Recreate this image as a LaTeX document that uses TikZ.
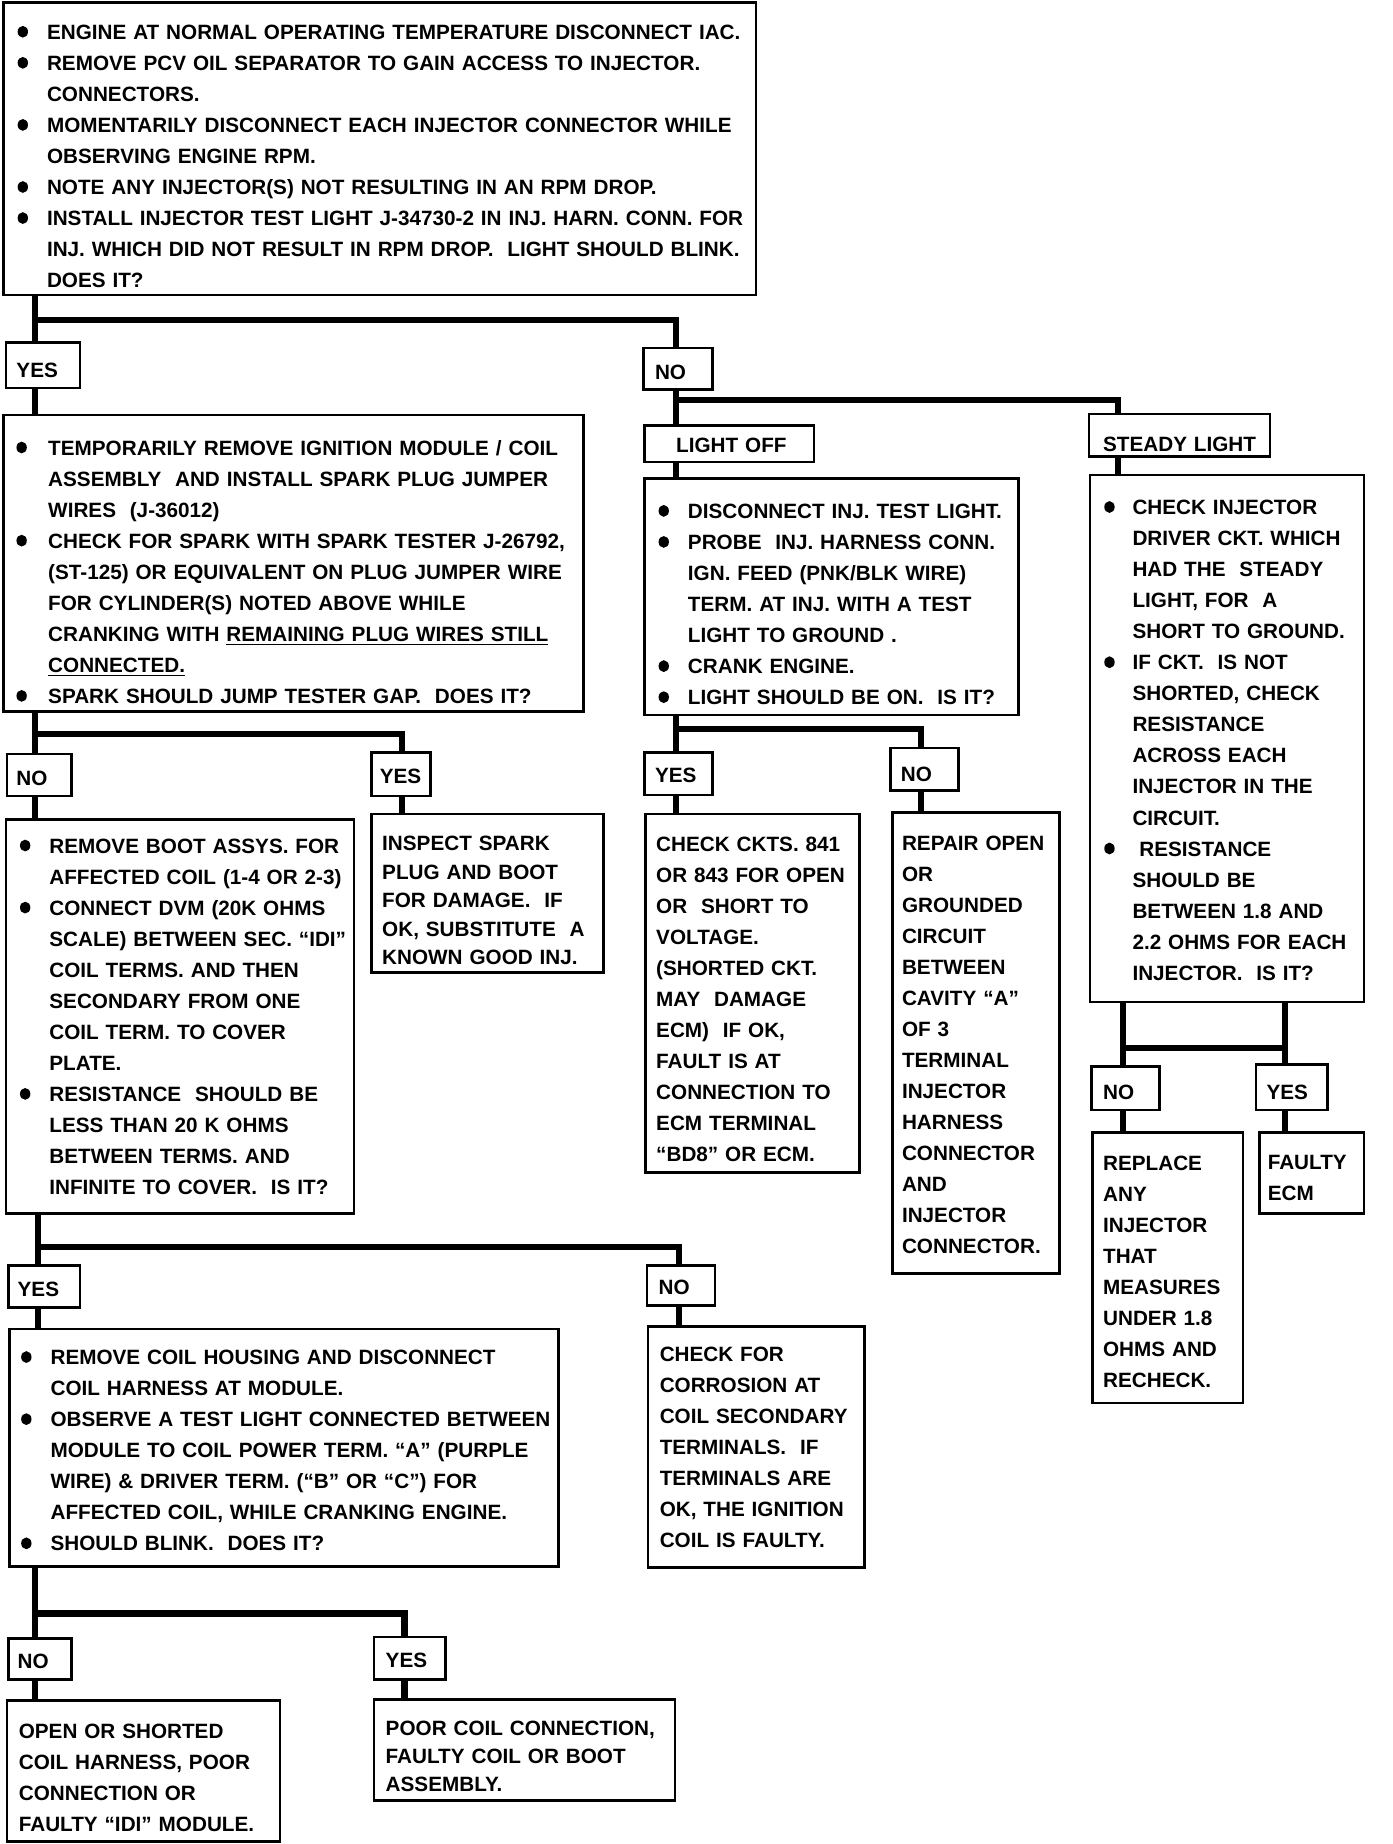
\documentclass[tikz,border=0pt]{standalone}
\usepackage{fontspec}
\setmainfont{Liberation Sans}
\newlength{\bulw}
\newcommand{\bdot}{\raisebox{0.9pt}{\tikz[baseline=0pt]\fill[black] (0,2.3pt) ellipse [x radius=2.2pt, y radius=2.5pt];}}
\newcommand{\bul}[1]{\mbox{\makebox[\bulw][l]{\hspace*{1pt}\bdot}#1}}
\newcommand{\bcont}[1]{\mbox{\hspace*{\bulw}#1}}
\newcommand{\pl}[1]{\mbox{#1}}
\newcommand{\dn}[1]{\rule{0pt}{\dimexpr 6.6pt+#1pt\relax}}
\begin{document}
\begin{tikzpicture}[x=0.5pt,y=-0.5pt,
  box/.style={draw, line width=1.1pt, anchor=north west, outer sep=0pt, inner ysep=0pt, align=left,
    font=\bfseries\fontsize{8.8}{13.2}\selectfont},
  tight/.style={font=\bfseries\fontsize{8.8}{12.1}\selectfont},
  dims/.style n args={3}{minimum height=#1pt, text width=#2pt, inner xsep=#3pt},
  conn/.style={line width=2.6pt}]
\fill[white] (0,0) rectangle (1184,1568);

% ---------- main boxes ----------
\node[box, dims={124.5}{310}{5}] (top) at (3,2) {\setlength{\bulw}{13.5pt}%
\dn{6}\bul{ENGINE AT NORMAL OPERATING TEMPERATURE DISCONNECT IAC.}\\
\bul{REMOVE PCV OIL SEPARATOR TO GAIN ACCESS TO INJECTOR.}\\
\bcont{CONNECTORS.}\\
\bul{MOMENTARILY DISCONNECT EACH INJECTOR CONNECTOR WHILE}\\
\bcont{OBSERVING ENGINE RPM.}\\
\bul{NOTE ANY INJECTOR(S) NOT RESULTING IN AN RPM DROP.}\\
\bul{INSTALL INJECTOR TEST LIGHT J-34730-2 IN INJ. HARN. CONN. FOR}\\
\bcont{INJ. WHICH DID NOT RESULT IN RPM DROP.\ \ LIGHT SHOULD BLINK.}\\
\bcont{DOES IT?}};

\node[box, dims={126}{237.5}{4.5}] (spark) at (3,353) {\setlength{\bulw}{14.5pt}%
\dn{7}\bul{TEMPORARILY REMOVE IGNITION MODULE / COIL}\\
\bcont{ASSEMBLY\ \ AND INSTALL SPARK PLUG JUMPER}\\
\bcont{WIRES\ \ (J-36012)}\\
\bul{CHECK FOR SPARK WITH SPARK TESTER J-26792,}\\
\bcont{(ST-125) OR EQUIVALENT ON PLUG JUMPER WIRE}\\
\bcont{FOR CYLINDER(S) NOTED ABOVE WHILE}\\
\bcont{CRANKING WITH \underline{REMAINING PLUG WIRES STILL}}\\
\bcont{\underline{CONNECTED.}}\\
\bul{SPARK SHOULD JUMP TESTER GAP.\ \ DOES IT?}};

\node[box, dims={100.5}{149}{5}] (off) at (548,407) {\setlength{\bulw}{13.5pt}%
\dn{6}\bul{DISCONNECT INJ. TEST LIGHT.}\\
\bul{PROBE\ \ INJ. HARNESS CONN.}\\
\bcont{IGN. FEED (PNK/BLK WIRE)}\\
\bcont{TERM. AT INJ. WITH A TEST}\\
\bcont{LIGHT TO GROUND .}\\
\bul{CRANK ENGINE.}\\
\bul{LIGHT SHOULD BE ON.\ \ IS IT?}};

\node[box, dims={224}{106.5}{5}] (stdy) at (927,404) {\setlength{\bulw}{13pt}%
\dn{1}\bul{CHECK INJECTOR}\\
\bcont{DRIVER CKT. WHICH}\\
\bcont{HAD THE\ \ STEADY}\\
\bcont{LIGHT, FOR\ \ A}\\
\bcont{SHORT TO GROUND.}\\
\bul{IF CKT.\ \ IS NOT}\\
\bcont{SHORTED, CHECK}\\
\bcont{RESISTANCE}\\
\bcont{ACROSS EACH}\\
\bcont{INJECTOR IN THE}\\
\bcont{CIRCUIT.}\\
\bul{\ RESISTANCE}\\
\bcont{SHOULD BE}\\
\bcont{BETWEEN 1.8 AND}\\
\bcont{2.2 OHMS FOR EACH}\\
\bcont{INJECTOR.\ \ IS IT?}};

\node[box, dims={167.5}{138}{5}] (boot) at (5,697) {\setlength{\bulw}{13.5pt}%
\bul{REMOVE BOOT ASSYS. FOR}\\
\bcont{AFFECTED COIL (1-4 OR 2-3)}\\
\bul{CONNECT DVM (20K OHMS}\\
\bcont{SCALE) BETWEEN SEC. “IDI”}\\
\bcont{COIL TERMS. AND THEN}\\
\bcont{SECONDARY FROM ONE}\\
\bcont{COIL TERM. TO COVER}\\
\bcont{PLATE.}\\
\bul{RESISTANCE\ \ SHOULD BE}\\
\bcont{LESS THAN 20 K OHMS}\\
\bcont{BETWEEN TERMS. AND}\\
\bcont{INFINITE TO COVER.\ \ IS IT?}};

\node[box, tight, dims={67.5}{89.5}{4.5}] (insp) at (316,692) {%
\dn{6}\pl{INSPECT SPARK}\\
\pl{PLUG AND BOOT}\\
\pl{FOR DAMAGE.\ \ IF}\\
\pl{OK, SUBSTITUTE\ \ A}\\
\pl{KNOWN GOOD INJ.}};

\node[box, dims={152.5}{82}{4.5}] (ckts) at (549,692) {%
\dn{5}\pl{CHECK CKTS. 841}\\
\pl{OR 843 FOR OPEN}\\
\pl{OR\ \ SHORT TO}\\
\pl{VOLTAGE.}\\
\pl{(SHORTED CKT.}\\
\pl{MAY\ \ DAMAGE}\\
\pl{ECM)\ \ IF OK,}\\
\pl{FAULT IS AT}\\
\pl{CONNECTION TO}\\
\pl{ECM TERMINAL}\\
\pl{“BD8” OR ECM.}};

\node[box, dims={196}{63}{4}] (rep) at (759,691) {%
\dn{1}\pl{REPAIR OPEN}\\
\pl{OR}\\
\pl{GROUNDED}\\
\pl{CIRCUIT}\\
\pl{BETWEEN}\\
\pl{CAVITY “A”}\\
\pl{OF 3}\\
\pl{TERMINAL}\\
\pl{INJECTOR}\\
\pl{HARNESS}\\
\pl{CONNECTOR}\\
\pl{AND}\\
\pl{INJECTOR}\\
\pl{CONNECTOR.}};

\node[box, dims={115}{55}{4.5}] (repl) at (929,963) {%
\dn{3}\pl{REPLACE}\\
\pl{ANY}\\
\pl{INJECTOR}\\
\pl{THAT}\\
\pl{MEASURES}\\
\pl{UNDER 1.8}\\
\pl{OHMS AND}\\
\pl{RECHECK.}};

\node[box, dims={34.5}{37.5}{3.5}] (ecm) at (1071,963) {%
\dn{4}\pl{FAULTY}\\
\pl{ECM}};

\node[box, dims={101}{225.5}{4}] (hous) at (8,1130) {\setlength{\bulw}{13.5pt}%
\dn{2}\bul{REMOVE COIL HOUSING AND DISCONNECT}\\
\bcont{COIL HARNESS AT MODULE.}\\
\bul{OBSERVE A TEST LIGHT CONNECTED BETWEEN}\\
\bcont{MODULE TO COIL POWER TERM. “A” (PURPLE}\\
\bcont{WIRE) \& DRIVER TERM. (“B” OR “C”) FOR}\\
\bcont{AFFECTED COIL, WHILE CRANKING ENGINE.}\\
\bul{SHOULD BLINK.\ \ DOES IT?}};

\node[box, dims={102.5}{82}{5}] (corr) at (551,1128) {%
\pl{CHECK FOR}\\
\pl{CORROSION AT}\\
\pl{COIL SECONDARY}\\
\pl{TERMINALS.\ \ IF}\\
\pl{TERMINALS ARE}\\
\pl{OK, THE IGNITION}\\
\pl{COIL IS FAULTY.}};

\node[box, dims={60}{106}{5}] (open) at (6,1446) {%
\dn{5}\pl{OPEN OR SHORTED}\\
\pl{COIL HARNESS, POOR}\\
\pl{CONNECTION OR}\\
\pl{FAULTY “IDI” MODULE.}};

\node[box, tight, dims={43}{118}{5}] (poor) at (318,1445) {%
\dn{5}\pl{POOR COIL CONNECTION,}\\
\pl{FAULTY COIL OR BOOT}\\
\pl{ASSEMBLY.}};

% ---------- small label boxes ----------
\node[box, dims={19.5}{22.5}{4.5}] (yes1) at (5,291) {\dn{4}YES};
\node[box, dims={17.5}{19.5}{5}] (no1) at (547,296) {\dn{3}NO};
\node[box, dims={15.5}{45}{13.5}] (loff) at (548,362) {\dn{1}\pl{LIGHT OFF}};
\node[box, dims={18}{65}{6}] (sl) at (926,352) {\dn{7}\pl{STEADY LIGHT}};
\node[box, dims={18}{19.5}{4}] (no2) at (6,641) {\dn{2}NO};
\node[box, dims={18.5}{18}{3.5}] (yes2) at (316,640) {\dn{1}YES};
\node[box, dims={18}{20}{4.5}] (yes3) at (548,640) {\dn{1}YES};
\node[box, dims={18}{20}{4.5}] (no3) at (757,636) {\dn{4}NO};
\node[box, dims={18.5}{19}{5}] (no4) at (928,907) {\dn{3}NO};
\node[box, dims={19.5}{21.5}{4.5}] (yes4) at (1068,905) {\dn{4}YES};
\node[box, dims={18}{22.5}{4}] (yes5) at (7,1076) {\dn{2}YES};
\node[box, dims={17}{19}{5}] (no5) at (550,1076) {\dn{1}NO};
\node[box, dims={17.5}{19}{4}] (no6) at (7,1393) {\dn{2}NO};
\node[box, dims={18}{20.5}{5}] (yes6) at (318,1392) {\dn{1}YES};

% ---------- connector junctions ----------
\coordinate (c1) at (30,272);   \coordinate (c2) at (575,272);
\coordinate (c3) at (575,340);  \coordinate (c4) at (951,340);
\coordinate (c5) at (30,624);   \coordinate (c6) at (342,624);
\coordinate (c7) at (575,620);  \coordinate (c8) at (783,620);
\coordinate (c9) at (955,891);  \coordinate (c10) at (1093,891);
\coordinate (c11) at (32,1060); \coordinate (c12) at (577,1060);
\coordinate (c13) at (30,1372); \coordinate (c14) at (344,1372);

% ---------- connectors ----------
\draw[conn] (top.south -| c1) -- (yes1.north -| c1);
\draw[conn] (c1) -- (c2) -- (no1.north -| c2);
\draw[conn] (yes1.south -| c1) -- (spark.north -| c1);
\draw[conn] (no1.south -| c2) -- (loff.north -| c2);
\draw[conn] (c3) -- (c4) -- (sl.north -| c4);
\draw[conn] (loff.south -| c2) -- (off.north -| c2);
\draw[conn] (sl.south -| c4) -- (stdy.north -| c4);

\draw[conn] (spark.south -| c5) -- (no2.north -| c5);
\draw[conn] (c5) -- (c6) -- (yes2.north -| c6);
\draw[conn] (no2.south -| c5) -- (boot.north -| c5);
\draw[conn] (yes2.south -| c6) -- (insp.north -| c6);

\draw[conn] (off.south -| c7) -- (yes3.north -| c7);
\draw[conn] (c7) -- (c8) -- (no3.north -| c8);
\draw[conn] (yes3.south -| c7) -- (ckts.north -| c7);
\draw[conn] (no3.south -| c8) -- (rep.north -| c8);

\draw[conn] (stdy.south -| c9) -- (no4.north -| c9);
\draw[conn] (stdy.south -| c10) -- (yes4.north -| c10);
\draw[conn] (c9) -- (c10);
\draw[conn] (no4.south -| c9) -- (repl.north -| c9);
\draw[conn] (yes4.south -| c10) -- (ecm.north -| c10);

\draw[conn] (boot.south -| c11) -- (yes5.north -| c11);
\draw[conn] (c11) -- (c12) -- (no5.north -| c12);
\draw[conn] (yes5.south -| c11) -- (hous.north -| c11);
\draw[conn] (no5.south -| c12) -- (corr.north -| c12);

\draw[conn] (hous.south -| c13) -- (no6.north -| c13);
\draw[conn] (c13) -- (c14) -- (yes6.north -| c14);
\draw[conn] (no6.south -| c13) -- (open.north -| c13);
\draw[conn] (yes6.south -| c14) -- (poor.north -| c14);
\end{tikzpicture}
\end{document}
